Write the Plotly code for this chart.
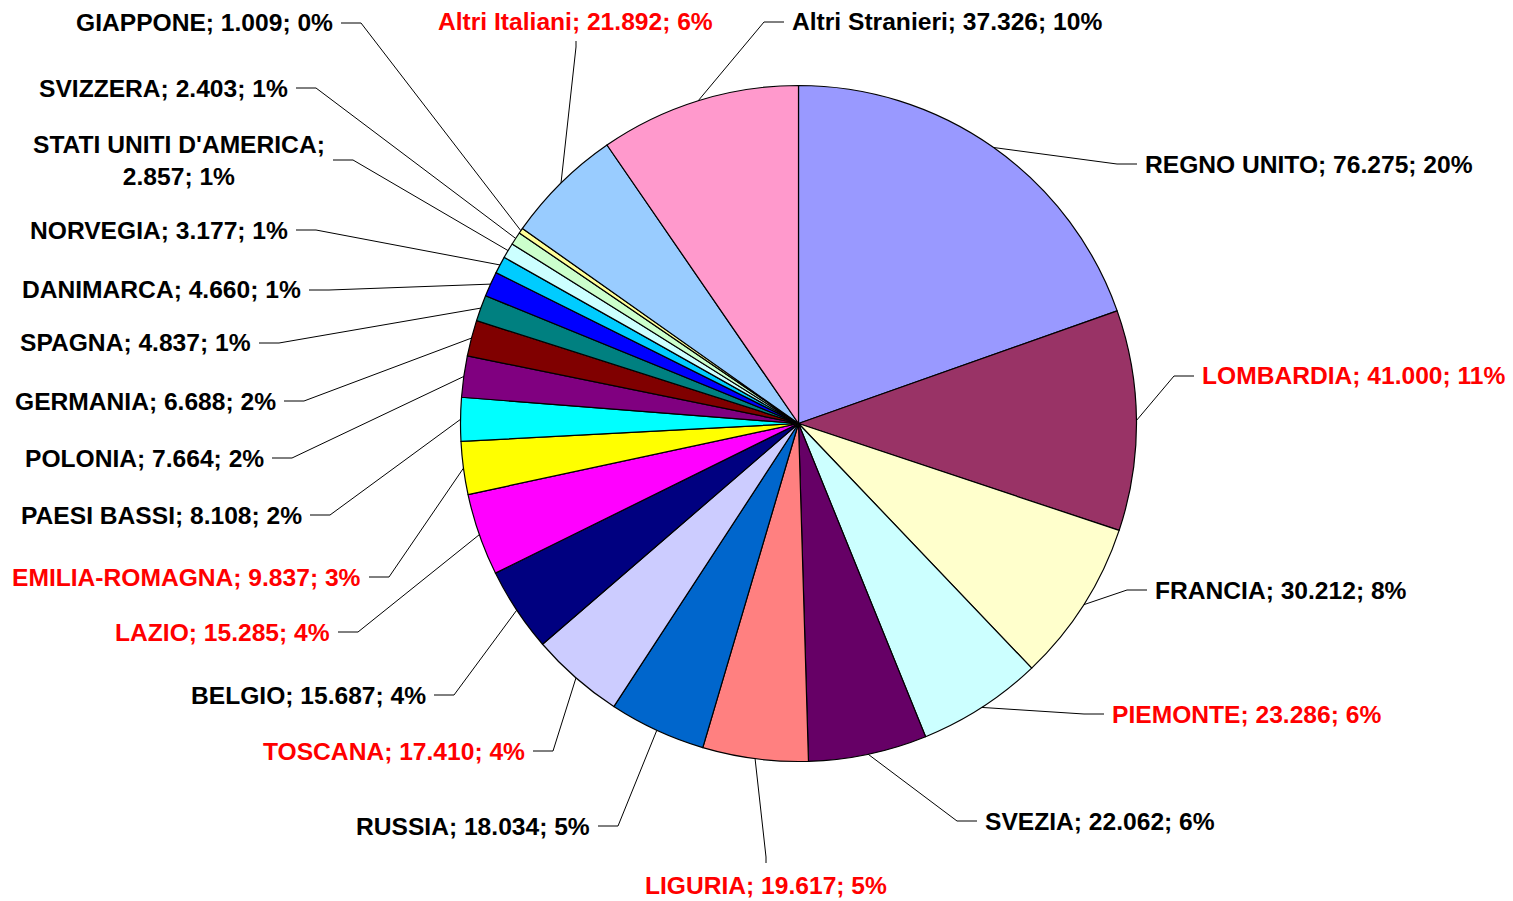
import math
import plotly.graph_objects as go

# ---------------- data ----------------
categories = [
    "REGNO UNITO", "LOMBARDIA", "FRANCIA", "PIEMONTE", "SVEZIA", "LIGURIA",
    "RUSSIA", "TOSCANA", "BELGIO", "LAZIO", "EMILIA-ROMAGNA", "PAESI BASSI",
    "POLONIA", "GERMANIA", "SPAGNA", "DANIMARCA", "NORVEGIA",
    "STATI UNITI D'AMERICA", "SVIZZERA", "GIAPPONE", "Altri Italiani",
    "Altri Stranieri",
]
values = [
    76275, 41000, 30212, 23286, 22062, 19617,
    18034, 17410, 15687, 15285, 9837, 8108,
    7664, 6688, 4837, 4660, 3177,
    2857, 2403, 1009, 21892,
    37326,
]
italian = [
    False, True, False, True, False, True,
    False, True, False, True, True, False,
    False, False, False, False, False,
    False, False, False, True,
    False,
]

# ---------------- styles / layout ----------------
colors = [
    "#9999FF", "#993366", "#FFFFCC", "#CCFFFF", "#660066", "#FF8080",
    "#0066CC", "#CCCCFF", "#000080", "#FF00FF", "#FFFF00", "#00FFFF",
    "#800080", "#800000", "#008080", "#0000FF", "#00CCFF",
    "#CCFFFF", "#CCFFCC", "#FFFF99", "#99CCFF",
    "#FF99CC",
]
# label placement (pixels): side, x, y   (L: right-aligned text left of pie,
# R: left-aligned text right of pie, T/B: centred text above/below)
label_place = [
    ("R", 1143, 164), ("R", 1200, 376), ("R", 1153, 590), ("R", 1110, 714),
    ("R", 983, 821), ("B", 766, 885), ("L", 592, 826), ("L", 527, 751),
    ("L", 428, 695), ("L", 332, 632), ("L", 363, 577), ("L", 304, 515),
    ("L", 266, 458), ("L", 278, 401), ("L", 253, 343), ("L", 303, 290),
    ("L", 290, 230), ("L", 327, 160), ("L", 290, 88), ("L", 335, 23),
    ("T", 575, 21), ("R", 790, 22),
]
wrap_after_name = {"STATI UNITI D'AMERICA"}

W, H = 1513, 901
CX, CY, R = 798.5, 423.5, 338.0
FONT = "Liberation Sans, Arial, sans-serif"
FSIZE = 24.6


def px(x):
    return x / W


def py(y):
    return 1 - y / H


total = sum(values)

fig = go.Figure(
    go.Pie(
        labels=categories,
        values=values,
        sort=False,
        direction="clockwise",
        rotation=0,
        textinfo="none",
        marker=dict(colors=colors, line=dict(color="#000000", width=1.2)),
        domain=dict(x=[px(CX - R), px(CX + R)], y=[py(CY + R), py(CY - R)]),
        showlegend=False,
    )
)

annotations = []
shapes = []
cum = 0.0
for name, v, ita, (side, lx, ly) in zip(categories, values, italian, label_place):
    mid = (cum + v / 2) / total * 2 * math.pi
    cum += v
    sx = CX + R * math.sin(mid)
    sy = CY - R * math.cos(mid)
    pct = int(v / total * 100 + 0.5)
    vtxt = f"{v:,}".replace(",", ".")
    sep = ";<br>" if name in wrap_after_name else "; "
    text = f"{name}{sep}{vtxt}; {pct}%"
    color = "#FF0000" if ita else "#000000"
    if side == "L":
        xanchor, yanchor = "right", "middle"
        p1 = (lx + 6, ly)
        p2 = (lx + 26, ly)
    elif side == "R":
        xanchor, yanchor = "left", "middle"
        p1 = (lx - 6, ly)
        p2 = (lx - 26, ly)
    elif side == "T":
        xanchor, yanchor = "center", "middle"
        p1 = (lx + 1, ly + 20)
        p2 = (lx + 1, ly + 26)
    else:
        xanchor, yanchor = "center", "middle"
        p1 = (lx, ly - 22)
        p2 = (lx, ly - 28)
    annotations.append(
        dict(
            x=px(lx), y=py(ly), xref="paper", yref="paper",
            text=text, showarrow=False, xanchor=xanchor, yanchor=yanchor,
            align="center",
            font=dict(family=FONT, size=FSIZE, color=color, weight="bold"),
        )
    )
    path = (
        f"M {px(p1[0])},{py(p1[1])} L {px(p2[0])},{py(p2[1])} "
        f"L {px(sx)},{py(sy)}"
    )
    shapes.append(
        dict(type="path", xref="paper", yref="paper", path=path,
             line=dict(color="#000000", width=1))
    )

fig.update_layout(
    width=W,
    height=H,
    margin=dict(l=0, r=0, t=0, b=0),
    paper_bgcolor="#FFFFFF",
    plot_bgcolor="#FFFFFF",
    annotations=annotations,
    shapes=shapes,
)

fig.write_html(
    "out.html",
    config={"displayModeBar": False},
    post_script="document.body.style.margin='0';document.body.style.overflow='hidden';",
)
